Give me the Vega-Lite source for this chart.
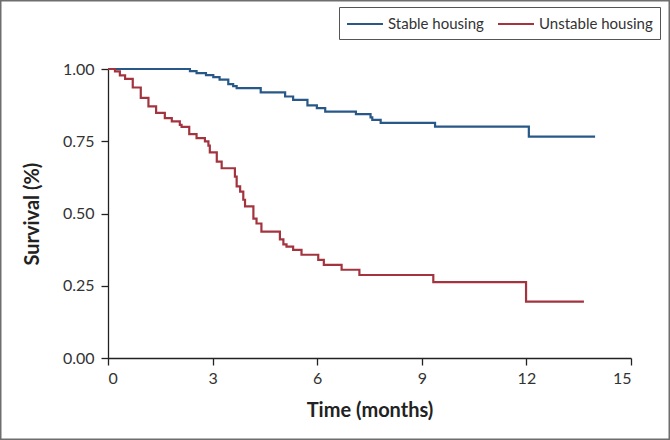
{
  "$schema": "https://vega.github.io/schema/vega-lite/v6.json",
  "width": 670,
  "height": 440,
  "autosize": {"type": "none"},
  "padding": 0,
  "background": "white",
  "config": {
    "view": {"stroke": "#6e6e6e", "strokeWidth": 3},
    "font": "Lato"
  },
  "data": {
    "values": [
      {"group": "Stable housing", "t": 0, "s": 1.0},
      {"group": "Stable housing", "t": 2.35, "s": 0.993},
      {"group": "Stable housing", "t": 2.54, "s": 0.986},
      {"group": "Stable housing", "t": 2.81, "s": 0.979},
      {"group": "Stable housing", "t": 3.02, "s": 0.972},
      {"group": "Stable housing", "t": 3.2, "s": 0.963},
      {"group": "Stable housing", "t": 3.45, "s": 0.948},
      {"group": "Stable housing", "t": 3.59, "s": 0.941},
      {"group": "Stable housing", "t": 3.69, "s": 0.934},
      {"group": "Stable housing", "t": 4.38, "s": 0.919},
      {"group": "Stable housing", "t": 5.08, "s": 0.905},
      {"group": "Stable housing", "t": 5.31, "s": 0.893},
      {"group": "Stable housing", "t": 5.72, "s": 0.874},
      {"group": "Stable housing", "t": 5.99, "s": 0.865},
      {"group": "Stable housing", "t": 6.23, "s": 0.853},
      {"group": "Stable housing", "t": 7.11, "s": 0.844},
      {"group": "Stable housing", "t": 7.53, "s": 0.833},
      {"group": "Stable housing", "t": 7.58, "s": 0.824},
      {"group": "Stable housing", "t": 7.82, "s": 0.814},
      {"group": "Stable housing", "t": 9.38, "s": 0.801},
      {"group": "Stable housing", "t": 12.07, "s": 0.766},
      {"group": "Stable housing", "t": 13.97, "s": 0.766},
      {"group": "Unstable housing", "t": 0, "s": 1.0},
      {"group": "Unstable housing", "t": 0.2, "s": 0.992},
      {"group": "Unstable housing", "t": 0.34, "s": 0.978},
      {"group": "Unstable housing", "t": 0.49, "s": 0.966},
      {"group": "Unstable housing", "t": 0.71, "s": 0.936},
      {"group": "Unstable housing", "t": 0.94, "s": 0.9},
      {"group": "Unstable housing", "t": 1.16, "s": 0.871},
      {"group": "Unstable housing", "t": 1.38, "s": 0.848},
      {"group": "Unstable housing", "t": 1.63, "s": 0.83},
      {"group": "Unstable housing", "t": 1.83, "s": 0.819},
      {"group": "Unstable housing", "t": 2.06, "s": 0.807},
      {"group": "Unstable housing", "t": 2.11, "s": 0.8},
      {"group": "Unstable housing", "t": 2.33, "s": 0.775},
      {"group": "Unstable housing", "t": 2.54, "s": 0.761},
      {"group": "Unstable housing", "t": 2.78, "s": 0.75},
      {"group": "Unstable housing", "t": 2.88, "s": 0.735},
      {"group": "Unstable housing", "t": 2.92, "s": 0.712},
      {"group": "Unstable housing", "t": 3.12, "s": 0.68},
      {"group": "Unstable housing", "t": 3.26, "s": 0.657},
      {"group": "Unstable housing", "t": 3.64, "s": 0.628},
      {"group": "Unstable housing", "t": 3.69, "s": 0.594},
      {"group": "Unstable housing", "t": 3.79, "s": 0.576},
      {"group": "Unstable housing", "t": 3.88, "s": 0.548},
      {"group": "Unstable housing", "t": 3.93, "s": 0.525},
      {"group": "Unstable housing", "t": 4.17, "s": 0.483},
      {"group": "Unstable housing", "t": 4.26, "s": 0.466},
      {"group": "Unstable housing", "t": 4.4, "s": 0.438},
      {"group": "Unstable housing", "t": 4.93, "s": 0.411},
      {"group": "Unstable housing", "t": 5.03, "s": 0.394},
      {"group": "Unstable housing", "t": 5.12, "s": 0.386},
      {"group": "Unstable housing", "t": 5.31, "s": 0.375},
      {"group": "Unstable housing", "t": 5.55, "s": 0.358},
      {"group": "Unstable housing", "t": 6.03, "s": 0.34},
      {"group": "Unstable housing", "t": 6.19, "s": 0.323},
      {"group": "Unstable housing", "t": 6.7, "s": 0.306},
      {"group": "Unstable housing", "t": 7.21, "s": 0.288},
      {"group": "Unstable housing", "t": 9.33, "s": 0.263},
      {"group": "Unstable housing", "t": 11.99, "s": 0.196},
      {"group": "Unstable housing", "t": 13.65, "s": 0.196}
    ]
  },
  "mark": {"type": "line", "interpolate": "step-after", "strokeWidth": 2.2},
  "encoding": {
    "x": {
      "field": "t",
      "type": "quantitative",
      "scale": {"domain": [0, 15], "range": [108, 631], "nice": false, "zero": false},
      "axis": {
        "title": "Time (months)",
        "values": [0, 3, 6, 9, 12, 15],
        "offset": -82,
        "grid": false,
        "domainColor": "#222",
        "domainWidth": 1.3,
        "tickColor": "#222",
        "tickWidth": 1.3,
        "tickSize": 7,
        "labelFontSize": 16,
        "labelColor": "#333",
        "labelPadding": 5,
        "titleFontSize": 20,
        "titleFontWeight": "bold",
        "titleColor": "#222",
        "titlePadding": 14
      }
    },
    "y": {
      "field": "s",
      "type": "quantitative",
      "scale": {"domain": [0, 1], "range": [358.3, 69], "nice": false, "zero": false},
      "axis": {
        "title": "Survival (%)",
        "values": [0, 0.25, 0.5, 0.75, 1],
        "format": ".2f",
        "offset": -108,
        "grid": false,
        "domainColor": "#222",
        "domainWidth": 1.3,
        "tickColor": "#222",
        "tickWidth": 1.3,
        "tickSize": 7,
        "labelFontSize": 16,
        "labelColor": "#333",
        "labelPadding": 7,
        "titleFontSize": 20,
        "titleFontWeight": "bold",
        "titleColor": "#222",
        "titlePadding": 20
      }
    },
    "color": {
      "field": "group",
      "type": "nominal",
      "scale": {
        "domain": ["Stable housing", "Unstable housing"],
        "range": ["#275887", "#a3343f"]
      },
      "legend": {
        "title": null,
        "orient": "none",
        "legendX": 339,
        "legendY": 7,
        "direction": "horizontal",
        "symbolType": "M-1,0H3",
        "symbolSize": 324,
        "symbolStrokeWidth": 2,
        "symbolFillColor": "transparent",
        "labelFontSize": 15,
        "labelColor": "#333",
        "labelOffset": 22,
        "columnPadding": 10,
        "padding": 7,
        "strokeColor": "#555",
        "cornerRadius": 0
      }
    }
  }
}
